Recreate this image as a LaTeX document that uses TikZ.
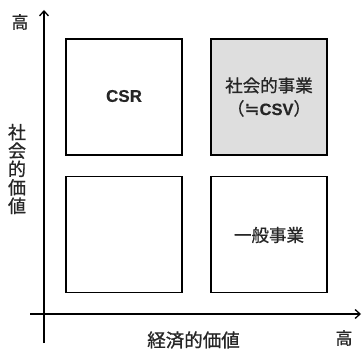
\documentclass[tikz,border=0pt]{standalone}
\usepackage{fontspec}
\setmainfont{Noto Sans CJK JP}
\newfontfamily\jpfont[FakeBold=0.9]{Noto Sans CJK JP}
\newfontfamily\latfont[FakeBold=0.3]{Liberation Sans Bold}
\newfontfamily\symfont[FakeBold=0.6]{DejaVu Sans}
\usetikzlibrary{arrows.meta}
\begin{document}
\begin{tikzpicture}[x=1pt,y=-1pt,
  quad/.style={draw=black,line width=1.7pt,minimum width=116pt,minimum height=116pt,inner sep=0pt},
  axis/.style={line width=1.2pt,-{Straight Barb[length=5pt,width=9pt,line width=1.3pt]}},
  lbl/.style={font=\jpfont\fontsize{17}{18.4}\selectfont,inner sep=0pt,text=black!85},
  inbox/.style={font=\jpfont\fontsize{17.5}{23}\selectfont,inner sep=0pt,align=center,text=black!85}]
\useasboundingbox (0,0) rectangle (362,353);
\node[quad] (tl) at (124,97) {};
\node[quad,fill=black!13] (tr) at (269,97) {};
\node[quad] (bl) at (124,234.5) {};
\node[quad] (br) at (269,234.5) {};
\coordinate (yb) at (44,343);
\coordinate (yt) at (44,10);
\coordinate (xl) at (30,314);
\coordinate (xr) at (361,314);
\draw[axis] (yb) -- (yt);
\draw[axis] (xl) -- (xr);
\node[inbox,font=\latfont\fontsize{17}{19}\selectfont] (csr) at (124,96) {CSR};
\node[inbox] (sj) at (269,97) {社会的事業\\（{\symfont\fontsize{18}{18}\selectfont ≒}{\latfont\fontsize{16.5}{19}\selectfont CSV}）};
\node[inbox] (ip) at (269,235) {一般事業};
\node[lbl] (hy) at (20,22) {高};
\node[lbl,align=center,font=\jpfont\fontsize{18}{18.4}\selectfont] (yl) at (17,169) {社\\会\\的\\価\\値};
\node[lbl,font=\jpfont\fontsize{18.5}{19}\selectfont] (xlab) at (193.5,340) {経済的価値};
\node[lbl] (hx) at (344,338) {高};
\end{tikzpicture}
\end{document}
